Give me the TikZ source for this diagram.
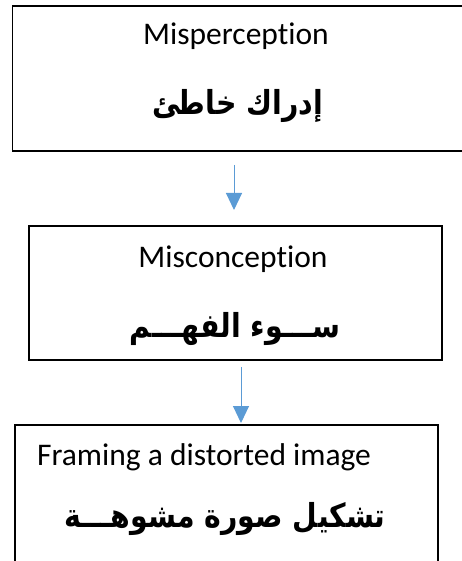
\documentclass[tikz,border=0pt]{standalone}
\usepackage{fontspec}
\setmainfont{Carlito}[Ligatures=NoCommon]
\newfontfamily\arabicfont[Script=Arabic, FakeStretch=0.86]{DejaVu Sans}
\TeXXeTstate=1
\usetikzlibrary{arrows.meta}
\usetikzlibrary{positioning}
\usepackage{color}
\definecolor{flowblue}{RGB}{91, 155, 213}

\tikzset{
  stagebox/.style={draw=black, line width=1.6pt, rectangle, anchor=north west, inner sep=0pt},
  latintext/.style={anchor=base, font=\fontsize{31.5}{31.5}\selectfont},
  arabictext/.style={anchor=base, font=\fontsize{33}{33}\arabicfont\bfseries},
  flowarrow/.style={draw=flowblue, line width=1pt, -{Triangle[width=16pt, length=17pt]}}
}

\begin{document}
\begin{tikzpicture}[x=1pt, y=-1pt]
            % Frame to ensure alignment:
            \useasboundingbox                                             (0, 0)   rectangle (462, 561);
            \node[stagebox, minimum width=452pt, minimum height=145pt] (perception)    at (11.5, 5.5)  {};
            \node[stagebox, minimum width=413pt, minimum height=134pt] (conception)    at (28, 225)    {};
            \node[stagebox, minimum width=423pt, minimum height=160pt] (framing)       at (14, 424)    {};
            % Texts, English above Arabic:
            \node[latintext]  (perceptionEn) at (236, 45)  {Misperception};
            \node[arabictext] (perceptionAr) at (238, 115) {\beginR إدراك خاطئ\endR};
            \node[latintext]  (conceptionEn) at (233, 267) {Misconception};
            \node[arabictext] (conceptionAr) at (235, 337) {\beginR ســـوء الفهـــم\endR};
            \node[latintext]  (framingEn)    at (204, 465) {Framing a distorted image};
            \node[arabictext] (framingAr)    at (225, 527) {\beginR تشكيل صورة مشوهـــة\endR};
            % Arrows between the stages:
            \coordinate (arrowOneTop)    at (234, 165);
            \coordinate (arrowOneTip)    at (234, 210);
            \coordinate (arrowTwoTop)    at (241, 367);
            \coordinate (arrowTwoTip)    at (241, 423);
            \draw[flowarrow] (arrowOneTop) -- (arrowOneTip);
            \draw[flowarrow] (arrowTwoTop) -- (arrowTwoTip);
        \end{tikzpicture}
\end{document}
